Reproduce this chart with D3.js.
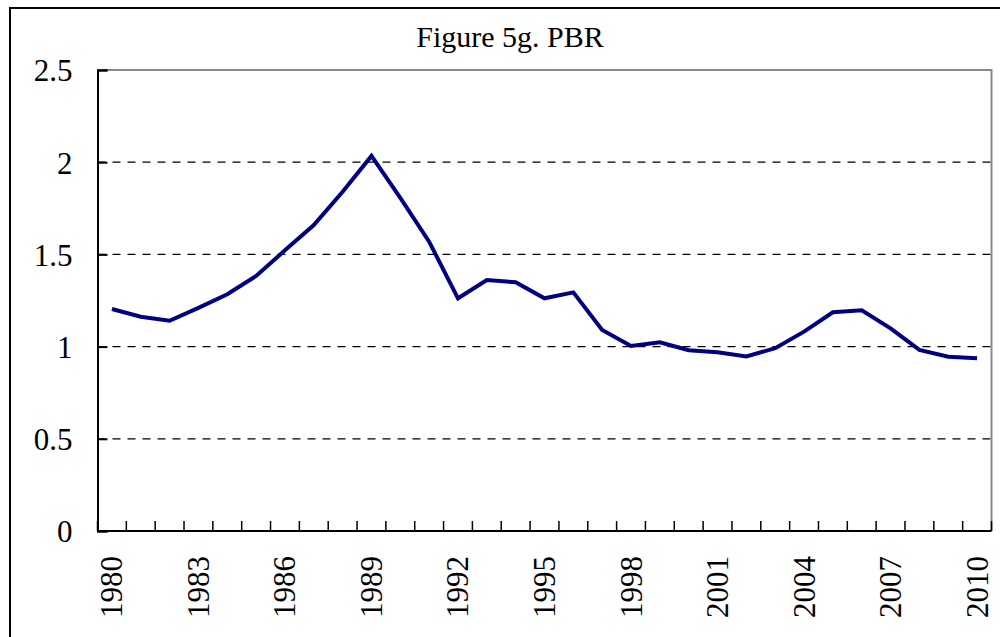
<!DOCTYPE html>
<html lang="en">
<head>
  <meta charset="UTF-8" />
  <title>Figure 5g. PBR</title>
  <script src="https://d3js.org/d3.v7.min.js"></script>
  <style>
    body { margin: 0; background: #fff; }
    svg { display: block; font-family: "Liberation Serif", "Times New Roman", serif; }
  </style>
</head>
<body>
  <svg id="chart" width="1000" height="637"></svg>
  <script>
    // data
    const years = d3.range(1980, 2011).map(String);
    const pbr = [1.204, 1.162, 1.140, 1.210, 1.284, 1.383, 1.522, 1.659, 1.840, 2.034,
                 1.806, 1.569, 1.262, 1.361, 1.349, 1.262, 1.294, 1.090, 1.003, 1.023,
                 0.980, 0.969, 0.947, 0.991, 1.081, 1.186, 1.197, 1.099, 0.982, 0.945, 0.937];
    const yTicks = [0, 0.5, 1, 1.5, 2, 2.5];
    const xLabels = years.filter((d, i) => i % 3 === 0);

    const svg = d3.select("#chart");
    const plotL = 97.5, plotR = 991.5, plotT = 70, plotB = 531;

    // outer chart border (cut off at the right/bottom of the window)
    svg.append("rect")
      .attr("x", 10).attr("y", 8)
      .attr("width", 1020).attr("height", 660)
      .attr("fill", "#fff").attr("stroke", "#000").attr("stroke-width", 2);

    svg.append("text")
      .attr("x", 510).attr("y", 47)
      .attr("text-anchor", "middle")
      .attr("font-size", 30)
      .text("Figure 5g. PBR");

    const x = d3.scaleBand().domain(years).range([plotL, plotR]).padding(0);
    const y = d3.scaleLinear().domain([0, 2.5]).range([plotB, plotT]);

    // dashed gridlines
    svg.append("g")
      .selectAll("line")
      .data(yTicks.filter(d => d > 0 && d < 2.5))
      .join("line")
      .attr("x1", plotL).attr("x2", plotR)
      .attr("y1", d => y(d)).attr("y2", d => y(d))
      .attr("stroke", "#000").attr("stroke-width", 1.3)
      .attr("stroke-dasharray", "8,7");

    // plot border top/right in grey
    svg.append("path")
      .attr("d", `M${plotL},${plotT}H${plotR}V${plotB}`)
      .attr("fill", "none").attr("stroke", "#888").attr("stroke-width", 2);

    // y axis
    const yAxis = svg.append("g")
      .attr("transform", `translate(${plotL},0)`)
      .call(d3.axisLeft(y).tickValues(yTicks).tickSize(-10).tickPadding(25)
        .tickFormat(d => String(d)));
    yAxis.select(".domain").attr("stroke", "#000").attr("stroke-width", 2);
    yAxis.selectAll(".tick line").attr("stroke", "#000").attr("stroke-width", 2);
    yAxis.selectAll(".tick text")
      .attr("font-family", "Liberation Serif, Times New Roman, serif")
      .attr("font-size", 31).attr("fill", "#000").attr("dy", "0.35em");

    // x axis: ticks at category boundaries
    const xg = svg.append("g");
    xg.selectAll("line.tick")
      .data(years.concat(["end"]))
      .join("line")
      .attr("class", "tick")
      .attr("x1", (d, i) => plotL + i * x.step())
      .attr("x2", (d, i) => plotL + i * x.step())
      .attr("y1", plotB).attr("y2", plotB - 10)
      .attr("stroke", "#000").attr("stroke-width", 1.5);
    xg.append("line")
      .attr("x1", plotL).attr("x2", plotR)
      .attr("y1", plotB).attr("y2", plotB)
      .attr("stroke", "#000").attr("stroke-width", 2);
    xg.selectAll("text")
      .data(xLabels)
      .join("text")
      .attr("transform", d => `translate(${x(d) + x.bandwidth() / 2 + 10.5},556) rotate(-90)`)
      .attr("text-anchor", "end")
      .attr("font-size", 31)
      .text(d => d);

    // line
    const line = d3.line()
      .x((d, i) => x(years[i]) + x.bandwidth() / 2)
      .y(d => y(d));
    svg.append("path")
      .datum(pbr)
      .attr("d", line)
      .attr("fill", "none")
      .attr("stroke", "#000080")
      .attr("stroke-width", 4)
      .attr("stroke-linejoin", "miter");
  </script>
</body>
</html>
